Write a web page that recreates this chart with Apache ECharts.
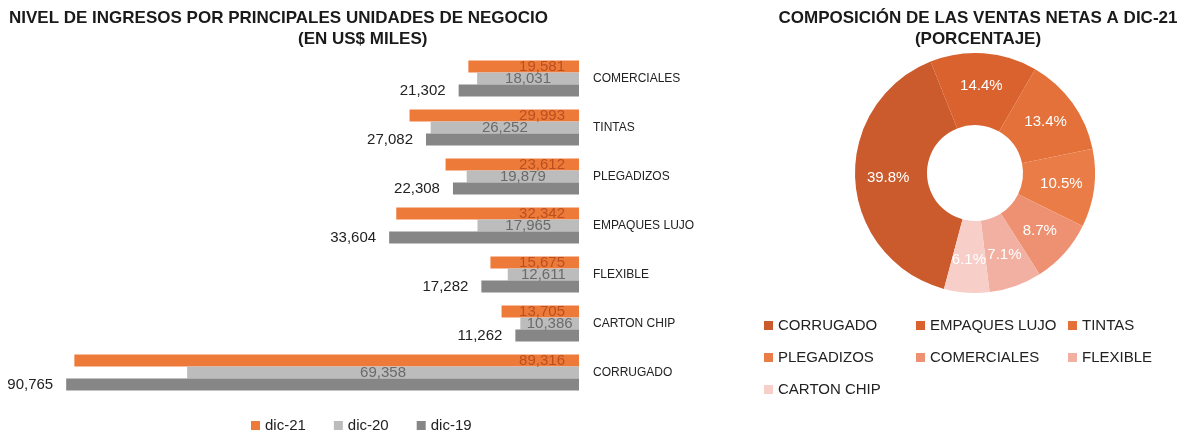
<!DOCTYPE html>
<html>
<head>
<meta charset="utf-8">
<script src="https://cdn.jsdelivr.net/npm/echarts@6/dist/echarts.min.js"></script>
<style>
  html, body { margin: 0; padding: 0; background: #fff; }
  #main { width: 1186px; height: 436px; }
</style>
</head>
<body>
<div id="main"></div>
<script>
// unidades de negocio (de arriba hacia abajo)
const categories = ['COMERCIALES', 'TINTAS', 'PLEGADIZOS', 'EMPAQUES LUJO', 'FLEXIBLE', 'CARTON CHIP', 'CORRUGADO'];
const dic21 = [19581, 29993, 23612, 32342, 15675, 13705, 89316];
const dic20 = [18031, 26252, 19879, 17965, 12611, 10386, 69358];
const dic19 = [21302, 27082, 22308, 33604, 17282, 11262, 90765];

// composicion ventas netas dic-21 (%)
const pieNames = ['CORRUGADO', 'EMPAQUES LUJO', 'TINTAS', 'PLEGADIZOS', 'COMERCIALES', 'FLEXIBLE', 'CARTON CHIP'];
const pieValues = [39.8, 14.4, 13.4, 10.5, 8.7, 7.1, 6.1];
const pieColors = ['#CB5A2C', '#D9622F', '#E4703A', '#EA7C47', '#EE9172', '#F2B0A2', '#F7CFC8'];

const font = 'Liberation Sans, Arial, sans-serif';
const fmt = v => v.value.toLocaleString('en-US');
const titleStyle = { fontSize: 17, fontWeight: 'bold', color: '#1a1a1a', lineHeight: 21, fontFamily: font };

const init = () => {
    let myChart = echarts.init(document.getElementById('main'));
    let option = {
        animation: false,
        textStyle: { fontFamily: font },
        title: [
            {
                text: 'NIVEL DE INGRESOS POR PRINCIPALES UNIDADES DE NEGOCIO',
                left: 4, top: 3,
                textStyle: titleStyle
            },
            {
                text: '(EN US$ MILES)',
                left: 293, top: 24,
                textStyle: titleStyle
            },
            {
                text: 'COMPOSICIÓN DE LAS VENTAS NETAS A DIC-21\n(PORCENTAJE)',
                left: 973, top: 3, textAlign: 'center',
                textStyle: titleStyle
            }
        ],
        legend: [
            {
                data: ['dic-21', 'dic-20', 'dic-19'],
                left: 246, top: 413,
                itemWidth: 9, itemHeight: 9, itemGap: 28,
                icon: 'rect',
                textStyle: { fontSize: 15, color: '#222', fontFamily: font }
            },
            {
                data: pieNames,
                left: 759, top: 305, width: 470,
                orient: 'horizontal',
                itemWidth: 9, itemHeight: 9, itemGap: 1,
                icon: 'rect',
                textStyle: { fontSize: 15, color: '#222', width: 137, lineHeight: 31, overflow: 'truncate', fontFamily: font }
            }
        ],
        grid: { left: 14, right: 607, top: 54, bottom: 39 },
        xAxis: {
            type: 'value', inverse: true, min: 0, max: 100000,
            show: false
        },
        yAxis: {
            type: 'category', data: categories, inverse: true, position: 'right',
            axisLine: { show: false }, axisTick: { show: false },
            axisLabel: { margin: 14, fontSize: 12, color: '#222', fontFamily: font }
        },
        series: [
            {
                name: 'dic-21', type: 'bar', data: dic21, barWidth: 12, barGap: '0%',
                itemStyle: { color: '#EE7A3A' },
                label: { show: true, position: 'insideRight', distance: 14, formatter: fmt, fontSize: 15, color: '#B9501F', fontFamily: font }
            },
            {
                name: 'dic-20', type: 'bar', data: dic20, barWidth: 12, barGap: '0%',
                itemStyle: { color: '#BCBCBC' },
                label: { show: true, position: 'inside', formatter: fmt, fontSize: 15, color: '#6a6a6a', fontFamily: font }
            },
            {
                name: 'dic-19', type: 'bar', data: dic19, barWidth: 12, barGap: '0%',
                itemStyle: { color: '#868686' },
                label: { show: true, position: 'left', distance: 13, formatter: fmt, fontSize: 15, color: '#222', fontFamily: font }
            },
            {
                type: 'pie',
                center: [975, 173],
                radius: [48, 120],
                startAngle: 255,
                clockwise: true,
                color: pieColors,
                data: pieNames.map((n, i) => ({ name: n, value: pieValues[i] })),
                label: {
                    show: true, position: 'inside',
                    formatter: p => p.value.toFixed(1) + '%',
                    fontSize: 15, color: '#fff', fontFamily: font
                },
                labelLine: { show: false }
            }
        ]
    };
    myChart.setOption(option);
}
init();
</script>
</body>
</html>
